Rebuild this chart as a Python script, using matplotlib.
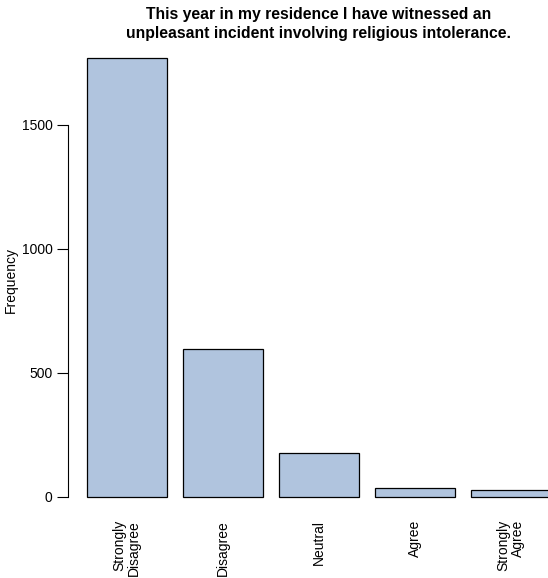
import numpy as np
import matplotlib.pyplot as plt

plt.rcParams['font.family'] = ['Liberation Sans', 'DejaVu Sans']

categories = ["Strongly\nDisagree", "Disagree", "Neutral", "Agree", "Strongly\nAgree"]
counts = [1772, 596, 178, 35, 30]
title = "This year in my residence I have witnessed an\nunpleasant incident involving religious intolerance."

W, H = 548, 578
fig = plt.figure(figsize=(W / 100, H / 100), dpi=100)

# R barplot geometry: width 1, space 0.2, axes stretched 4% each side
xl, xr = 0.2 - 0.232, 6.0 + 0.232
ymax = max(counts)
yl, yr = -0.04 * ymax, 1.04 * ymax
px_unit = 80.0
left_px = 87 - 0.232 * px_unit
width_px = (xr - xl) * px_unit
py_per = 372.0 / 1500
bottom_px = 497 + (0 - yl) * py_per
top_px = 497 - yr * py_per
ax = fig.add_axes([left_px / W, 1 - bottom_px / H, width_px / W, (bottom_px - top_px) / H])

x = 0.2 + np.arange(len(counts)) * 1.2 + 0.5
ax.bar(x, counts, width=1.0, color="#B0C4DE", edgecolor="black", linewidth=0.9)
ax.set_xlim(xl, xr)
ax.set_ylim(yl, yr)

for s in ["top", "right", "bottom"]:
    ax.spines[s].set_visible(False)
ax.spines["left"].set_bounds(0, 1500)
ax.spines["left"].set_linewidth(0.8)
ax.set_yticks([0, 500, 1000, 1500])
ax.tick_params(axis="y", length=8, width=0.8, labelsize=10, pad=3.5)
ax.set_xticks([])

for xi, lab in zip(x, categories):
    ax.text(xi, -23 / py_per, lab, rotation=90, ha="center", va="top",
            multialignment="right", fontsize=10, linespacing=1.05)

fig.text(11 / W, 1 - 280 / H, "Frequency", rotation=90, ha="center", va="center", fontsize=10)
fig.text((left_px + width_px / 2) / W, 1 - 7 / H, title, ha="center", va="top",
         fontsize=11.3, fontweight="bold", linespacing=1.3)

fig.savefig("out.png", dpi=100)
